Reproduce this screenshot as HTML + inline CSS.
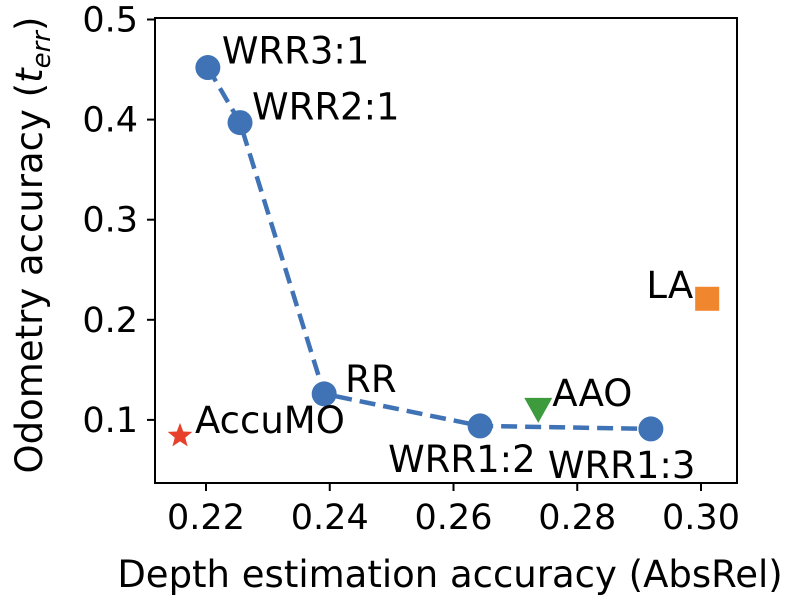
<!DOCTYPE html>
<html><head><meta charset="utf-8"><style>
body{margin:0;background:#fff;}
svg text{font-family:"DejaVu Sans","Liberation Sans",sans-serif;fill:#000;}
</style></head><body>
<svg id="chart" width="789" height="599" xmlns="http://www.w3.org/2000/svg"></svg>
<script>
const lineNames=["WRR3:1","WRR2:1","RR","WRR1:2","WRR1:3"];
const lineX=[0.2203,0.2255,0.2391,0.2643,0.2919];
const lineY=[0.452,0.397,0.126,0.094,0.091];
const otherNames=["AccuMO","AAO","LA"];
const otherX=[0.2158,0.2737,0.3010];
const otherY=[0.084,0.110,0.221];
const xTicks=[0.22,0.24,0.26,0.28,0.30];
const yTicks=[0.1,0.2,0.3,0.4,0.5];
const L=155,R=737,T=18,B=483;
const sx=v=>206+(v-0.22)/0.02*123.75;
const sy=v=>520-v*1001;
const svg=document.getElementById('chart');
const NS="http://www.w3.org/2000/svg";
function mk(tag,attrs,name,parent){const e=document.createElementNS(NS,tag);for(const k in attrs)e.setAttribute(k,attrs[k]);


(parent||svg).appendChild(e);return e;}
mk('rect',{x:L,y:T,width:R-L,height:B-T,fill:'none',stroke:'#000','stroke-width':2},'plot-frame');
xTicks.forEach(t=>{const x=sx(t);mk('line',{x1:x,x2:x,y1:B,y2:B+8,stroke:'#000','stroke-width':2},'x-tick');
const tx=mk('text',{x:x,y:B+46,'font-size':35,'text-anchor':'middle'},'x-tick-label');tx.textContent=t.toFixed(2);});
yTicks.forEach(t=>{const y=sy(t);mk('line',{x1:L-8,x2:L,y1:y,y2:y,stroke:'#000','stroke-width':2},'y-tick');
const tx=mk('text',{x:L-17,y:y+12,'font-size':35,'text-anchor':'end'},'y-tick-label');tx.textContent=t.toFixed(1);});
const xl=mk('text',{x:450,y:587,'font-size':37,'text-anchor':'middle'},'x-axis-title');xl.textContent="Depth estimation accuracy (AbsRel)";
const yl=mk('text',{x:0,y:0,'font-size':37,'text-anchor':'middle',transform:'translate(42,245) rotate(-90)'},'y-axis-title');
yl.innerHTML='Odometry accuracy (<tspan font-style="italic">t</tspan><tspan font-style="italic" font-size="26" dy="8">err</tspan><tspan dy="-8">)</tspan>';
mk('polyline',{points:lineX.map((x,i)=>sx(x)+','+sy(lineY[i])).join(' '),fill:'none',stroke:'#3f73b5','stroke-width':4.5,'stroke-dasharray':'16,8'},'tradeoff-line');
const offs=[[14,-4],[12,-3],[21,-2],[-92,46],[-103,49]];
lineX.forEach((x,i)=>{mk('circle',{cx:sx(x),cy:sy(lineY[i]),r:12.5,fill:'#3f73b5'},'point-'+lineNames[i].toLowerCase().replace(':','-'));
const t=mk('text',{x:sx(x)+offs[i][0],y:sy(lineY[i])+offs[i][1],'font-size':37},'point-label');t.textContent=lineNames[i];});
{const cx=sx(otherX[0]),cy=sy(otherY[0]);let p=[];for(let k=0;k<10;k++){const r=k%2?5.5:13,a=-Math.PI/2+k*Math.PI/5;p.push((cx+r*Math.cos(a))+','+(cy+r*Math.sin(a)));}
mk('polygon',{points:p.join(' '),fill:'#e8412b'},'point-accumo');
const t=mk('text',{x:cx+15,y:cy-3,'font-size':37},'point-label');t.textContent=otherNames[0];}
{const cx=sx(otherX[1]),cy=sy(otherY[1]);mk('polygon',{points:`${cx-14},${cy-12} ${cx+14},${cy-12} ${cx},${cy+13}`,fill:'#3d9a3d'},'point-aao');
const t=mk('text',{x:cx+14,y:cy-4,'font-size':37},'point-label');t.textContent=otherNames[1];}
{const cx=sx(otherX[2]),cy=sy(otherY[2]);mk('rect',{x:cx-12,y:cy-12,width:24,height:24,fill:'#f0862e'},'point-la');
const t=mk('text',{x:cx-14,y:cy-1,'font-size':37,'text-anchor':'end'},'point-label');t.textContent=otherNames[2];}
</script>
</body></html>
